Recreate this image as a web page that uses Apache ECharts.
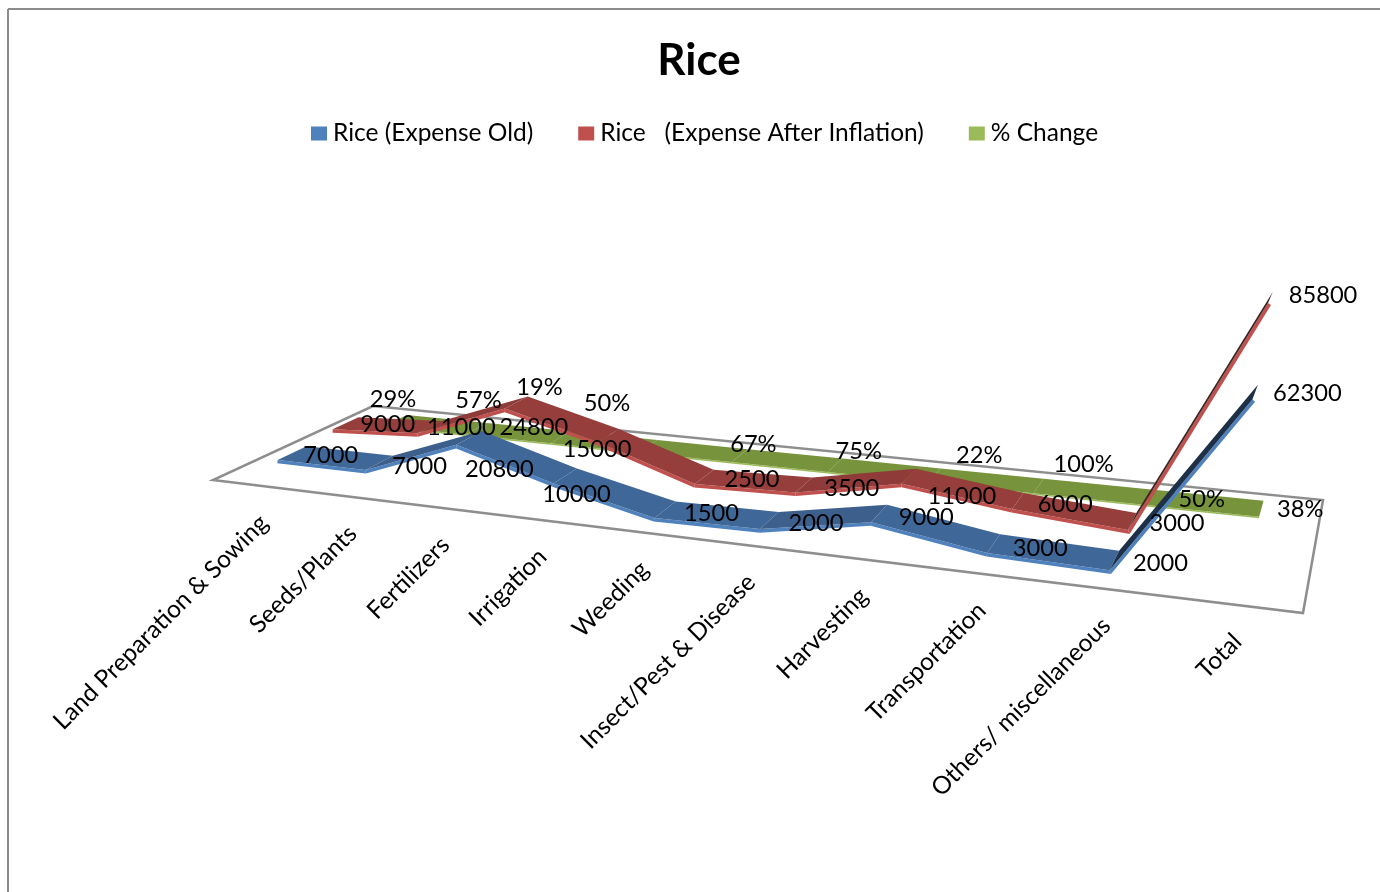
<!DOCTYPE html>
<html>
<head>
<meta charset="utf-8">
<title>Rice</title>
<style>html,body{margin:0;padding:0;background:#fff}#chart{width:1380px;height:892px}</style>
<script src="https://cdn.jsdelivr.net/npm/echarts@6/dist/echarts.min.js"></script>
</head>
<body>
<div id="chart"></div>
<script>
// Cost of rice cultivation per activity, before and after inflation.
const categories = ['Land Preparation & Sowing','Seeds/Plants','Fertilizers','Irrigation','Weeding','Insect/Pest & Disease','Harvesting','Transportation','Others/ miscellaneous','Total'];
const expenseOld = [7000,7000,20800,10000,1500,2000,9000,3000,2000,62300];
const expenseAfter = [9000,11000,24800,15000,2500,3500,11000,6000,3000,85800];
const percentChange = [0.29,0.57,0.19,0.50,0.67,0.75,0.22,1.00,0.50,0.38];

// Data label offsets from the front edge of each ribbon.
const oldLabelShift = [[53,-5],[54,-4],[43,25],[23,11],[57,-5],[56,-6],[55,-5],[53,-5],[51,-7],[55,-6]];
const afterLabelShift = [[55,-5],[44,-6],[29,19],[-1,7],[57,-5],[56,-4],[60,13],[53,-5],[49,-7],[55,-8]];
const changeLabelShift = [[9,-27],[13,-34],[-11,-56],[-32,-49],[22,-18],[31,-21],[51,-27],[50,-29],[58,-5],[41,-7]];

const GRID = {left:200, top:200, width:1100, height:300};
const VALUE_MAX = 100000;
const HEIGHT_SCALE = 0.83;
const RUN_INSET = 0.006;
const LEAN_CENTER = 700, LEAN_DISTANCE = 7300;
const FONT = 'Lato, "Open Sans", sans-serif';

// Perspective floor: unit square (category run, depth) onto its screen quadrilateral.
const floor = {x0:213,y0:480, x1:1303,y1:613, x2:1323,y2:500, x3:373,y3:406};
const H = (function(q){
  const dx1=q.x1-q.x2, dx2=q.x3-q.x2, sx=q.x0-q.x1+q.x2-q.x3;
  const dy1=q.y1-q.y2, dy2=q.y3-q.y2, sy=q.y0-q.y1+q.y2-q.y3;
  const det=dx1*dy2-dx2*dy1;
  const g=(sx*dy2-dx2*sy)/det, h=(dx1*sy-sx*dy1)/det;
  return {a:q.x1-q.x0+g*q.x1, b:q.x3-q.x0+h*q.x3, c:q.x0,
          d:q.y1-q.y0+g*q.y1, e:q.y3-q.y0+h*q.y3, f:q.y0, g:g, h:h};
})(floor);

// Uprights lean outward from the centre of view as they rise.
function projectUW(u, w, lift){
  const D=H.g*u+H.h*w+1;
  const x=(H.a*u+H.b*w+H.c)/D, y=(H.d*u+H.e*w+H.f)/D;
  const rise=(lift||0)*HEIGHT_SCALE/D;
  return [x+rise*(x-LEAN_CENTER)/LEAN_DISTANCE, y-rise];
}
// Carries a point of the cartesian grid into the floor's perspective.
function project(pt, w){
  const u=(pt[0]-GRID.left)/GRID.width;
  return projectUW(RUN_INSET+(1-RUN_INSET)*u, w, GRID.top+GRID.height-pt[1]);
}

const ribbons = [
  {name:'% Change', values:percentChange, front:0.767, back:0.93, strip:1.5, edge:'#9bbb59', flat:'#77933c', climb:'#74903a', steep:'#4f6428', shift:changeLabelShift, fmt:v=>Math.round(v*100)+'%'},
  {name:'Rice   (Expense After Inflation)', values:expenseAfter, front:0.433, back:0.6, strip:3.5, edge:'#c0504d', flat:'#953e3b', climb:'#8f3b39', steep:'#3d2322', shift:afterLabelShift, fmt:v=>String(v)},
  {name:'Rice (Expense Old)', values:expenseOld, front:0.1, back:0.27, strip:3.5, edge:'#4f81bd', flat:'#3f6797', climb:'#3d5f8b', steep:'#1d3048', shift:oldLabelShift, fmt:v=>String(v)}
];

// Unit normal of a ribbon edge, pointing down the screen.
function edgeNormal(p,q){
  const dx=q[0]-p[0], dy=q[1]-p[1], len=Math.hypot(dx,dy)||1;
  return [-dy/len,dx/len];
}
// Mitred lower corner of the ribbon's lit edge at vertex i.
function edgeCorner(pts,i,width){
  const n1=edgeNormal(pts[Math.max(i-1,0)],pts[Math.max(i,1)]);
  const n2=edgeNormal(pts[Math.min(i,pts.length-2)],pts[Math.min(i+1,pts.length-1)]);
  let mx=n1[0]+n2[0], my=n1[1]+n2[1];
  const len=Math.hypot(mx,my)||1; mx/=len; my/=len;
  const k=Math.min(width/Math.max(mx*n1[0]+my*n1[1],0.01),width*2);
  return [pts[i][0]+mx*k,pts[i][1]+my*k];
}

function ribbonSeries(r){
  return {
    type:'custom', name:r.name, coordinateSystem:'cartesian2d', z:3,
    itemStyle:{color:r.edge},
    encode:{x:0,y:1},
    data:categories.map((c,i)=>[i,r.values[i]]),
    renderItem:function(params,api){
      const i=params.dataIndex;
      if(i>=categories.length-1) return null;
      const frontPts=r.values.map((v,k)=>project(api.coord([k,v]),r.front));
      const af=frontPts[i], bf=frontPts[i+1];
      const ab=project(api.coord([i,r.values[i]]),r.back), bb=project(api.coord([i+1,r.values[i+1]]),r.back);
      const al=edgeCorner(frontPts,i,r.strip), bl=edgeCorner(frontPts,i+1,r.strip);
      const rise=af[1]-bf[1];
      const top=rise>60?r.steep:(rise>3?r.climb:r.flat);
      return {type:'group',children:[
        {type:'polygon',shape:{points:[af,bf,bl,al]},style:{fill:r.edge}},
        {type:'polygon',shape:{points:[af,bf,bb,ab]},style:{fill:top}}
      ]};
    }
  };
}

const labelItems=[];
ribbons.forEach((r,k)=>r.values.forEach((v,i)=>labelItems.push([i,v,k])));

const option={
  animation:false,
  backgroundColor:'#fff',
  title:{text:'Rice',left:699,top:39,textAlign:'center',padding:0,textStyle:{fontFamily:FONT,fontWeight:'bold',fontSize:44,color:'#000'}},
  legend:{
    data:['Rice (Expense Old)','Rice   (Expense After Inflation)','% Change'],
    left:306,top:116,icon:'rect',itemWidth:16,itemHeight:14,itemGap:45,
    textStyle:{fontFamily:FONT,fontSize:24.5,color:'#000',padding:[0,0,0,1]}
  },
  grid:GRID,
  xAxis:{type:'category',data:categories,show:false},
  yAxis:{type:'value',min:0,max:VALUE_MAX,show:false},
  graphic:[
    {type:'line',shape:{x1:8,y1:9,x2:1380,y2:9},style:{stroke:'#8c8c8c',lineWidth:2}},
    {type:'line',shape:{x1:8,y1:9,x2:8,y2:892},style:{stroke:'#8c8c8c',lineWidth:2}}
  ],
  series:[
    {
      type:'custom',z:1,coordinateSystem:'cartesian2d',encode:{x:0,y:1},data:[[0,0]],silent:true,
      renderItem:function(){
        return {type:'polygon',shape:{points:[projectUW(0,0),projectUW(1,0),projectUW(1,1),projectUW(0,1)]},
                style:{fill:'none',stroke:'#8e8e8e',lineWidth:2.5}};
      }
    },
    ...ribbons.map(ribbonSeries),
    {
      type:'custom',z:6,coordinateSystem:'cartesian2d',encode:{x:0,y:1},data:labelItems,silent:true,
      renderItem:function(params,api){
        const d=labelItems[params.dataIndex], r=ribbons[d[2]];
        const p=project(api.coord([d[0],d[1]]),r.front), s=r.shift[d[0]];
        return {type:'text',x:p[0]+s[0],y:p[1]+s[1],
                style:{text:r.fmt(d[1]),align:'center',verticalAlign:'middle',fontFamily:FONT,fontSize:23.7,fill:'#000'}};
      }
    },
    {
      type:'custom',z:6,coordinateSystem:'cartesian2d',encode:{x:0,y:1},data:categories.map((c,i)=>[i,0]),silent:true,
      renderItem:function(params,api){
        const p=project(api.coord([params.dataIndex,0]),0);
        return {type:'text',x:p[0]+3,y:p[1]+33,rotation:Math.PI/4,
                style:{text:categories[params.dataIndex],align:'right',verticalAlign:'middle',fontFamily:FONT,fontSize:24.5,fill:'#000'}};
      }
    }
  ]
};
echarts.init(document.getElementById('chart')).setOption(option);
</script>
</body>
</html>
